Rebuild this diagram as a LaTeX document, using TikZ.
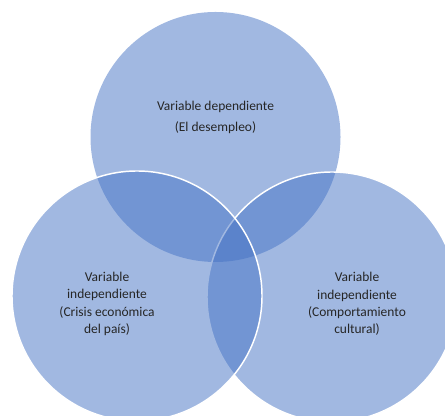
\documentclass[tikz,border=0pt]{standalone}
\usepackage{fontspec}
\setmainfont{Carlito}
\usetikzlibrary{positioning}
\definecolor{azul}{HTML}{4472C4}

\begin{document}
\begin{tikzpicture} [
    x=0.75pt, y=0.75pt,
    conjunto/.style={circle, fill=azul, fill opacity=0.5, minimum size=187.5pt, inner sep=0pt},
    borde/.style={draw=white, line width=1.1pt},
    etiqueta/.style={align=center, text=black!85, font=\fontsize{10.1}{13}\selectfont, inner sep=0pt}
    ]
    \useasboundingbox (0,0) rectangle (445,416);
    %Circles

    \node[conjunto]        (dep)     at (215.5,279) {};
    \node[conjunto, borde] (cultura) at (332,119)   {};
    \node[conjunto, borde] (crisis)  at (137,120)   {};

    %Labels
    \node[etiqueta] (tdep)     at ([yshift=15]dep.center)               {Variable dependiente\\[2.75pt](El desempleo)};
    \node[etiqueta] (tcrisis)  at ([shift={(-30,-8)}]crisis.center)     {Variable\\independiente\\(Crisis económica\\del país)};
    \node[etiqueta] (tcultura) at ([shift={(25,-7)}]cultura.center)     {Variable\\independiente\\(Comportamiento\\cultural)};
\end{tikzpicture}
\end{document}
